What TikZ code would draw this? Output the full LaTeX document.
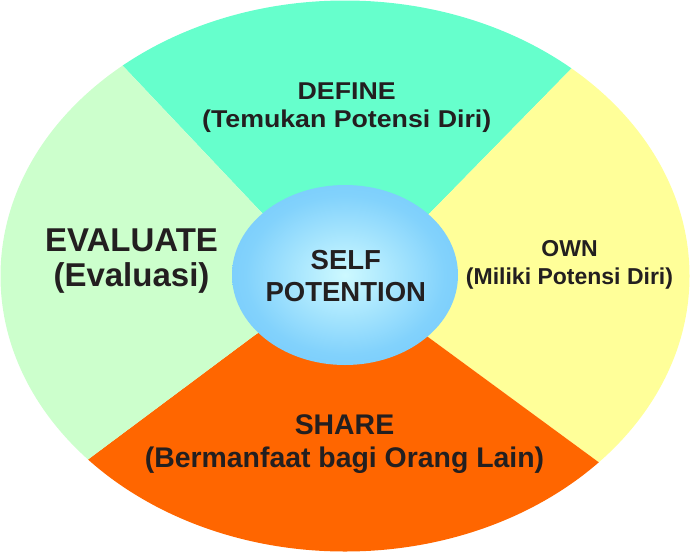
\documentclass[tikz,border=0pt]{standalone}
\usepackage{fontspec}
\setmainfont{Liberation Sans}
\newfontfamily\widesans[FakeStretch=1.1]{Liberation Sans}
\usetikzlibrary{calc,shapes.geometric}
\definecolor{definegreen}{HTML}{66FFCC}
\definecolor{ownyellow}{HTML}{FFFF99}
\definecolor{shareorange}{HTML}{FF6600}
\definecolor{evalgreen}{HTML}{CCFFCC}
\definecolor{textgray}{HTML}{231F20}
\definecolor{glowin}{RGB}{205,249,255}
\definecolor{glowmid}{RGB}{130,210,252}
\definecolor{glowout}{RGB}{90,185,250}
\pgfdeclareradialshading{selfglow}{\pgfpoint{0bp}{0bp}}{color(0bp)=(glowin); color(22bp)=(glowmid); color(50bp)=(glowout)}

\begin{document}
\begin{tikzpicture}[x=1pt, y=-1pt,
  sectortext/.style={text=textgray, align=center, inner sep=0pt}]
\useasboundingbox (0,0) rectangle (690,552);

% ends of the four borders (inner end sits under the middle ellipse)
\coordinate (tlout) at (123,66);  \coordinate (tlin) at (262,213);
\coordinate (trout) at (570,70);  \coordinate (trin) at (430,213);
\coordinate (brout) at (597,461); \coordinate (brin) at (428,337);
\coordinate (blout) at (90,458);  \coordinate (blin) at (255,335);
\coordinate (hub) at (345,276);

\begin{scope}
\clip (345,276) ellipse [x radius=344.5, y radius=275.5];
\fill[definegreen] ($(tlin)!3!(tlout)$) -- (tlin) -- (hub) -- (trin) -- ($(trin)!3!(trout)$) -- cycle; %define
\fill[ownyellow] ($(trin)!3!(trout)$) -- (trin) -- (hub) -- (brin) -- ($(brin)!3!(brout)$) -- cycle; %own
\fill[shareorange] ($(brin)!3!(brout)$) -- (brin) -- (hub) -- (blin) -- ($(blin)!3!(blout)$) -- cycle; %share
\fill[evalgreen] ($(blin)!3!(blout)$) -- (blin) -- (hub) -- (tlin) -- ($(tlin)!3!(tlout)$) -- cycle; %evaluate
\end{scope}

\node[ellipse, shade, shading=selfglow, minimum width=226, minimum height=180, inner sep=0pt] (self) at (345,275) {};
\node[sectortext, font=\bfseries\fontsize{27.5}{31.7}\selectfont] (selftext) at (345.8,276) {SELF\\POTENTION};

\node[sectortext, font=\widesans\bfseries\fontsize{24.3}{27.5}\selectfont] (define) at (346.7,107.5) {DEFINE\\(Temukan Potensi Diri)};
\node[sectortext, font=\bfseries\fontsize{23}{28.3}\selectfont] (own) at (569.5,265) {OWN\\(Miliki Potensi Diri)};
\node[sectortext, font=\bfseries\fontsize{28.4}{33}\selectfont] (share) at (344.5,444.5) {SHARE\\(Bermanfaat bagi Orang Lain)};
\node[sectortext, font=\bfseries\fontsize{33}{35}\selectfont] (evaluate) at (131.5,261.5) {EVALUATE\\(Evaluasi)};
\end{tikzpicture}
\end{document}
